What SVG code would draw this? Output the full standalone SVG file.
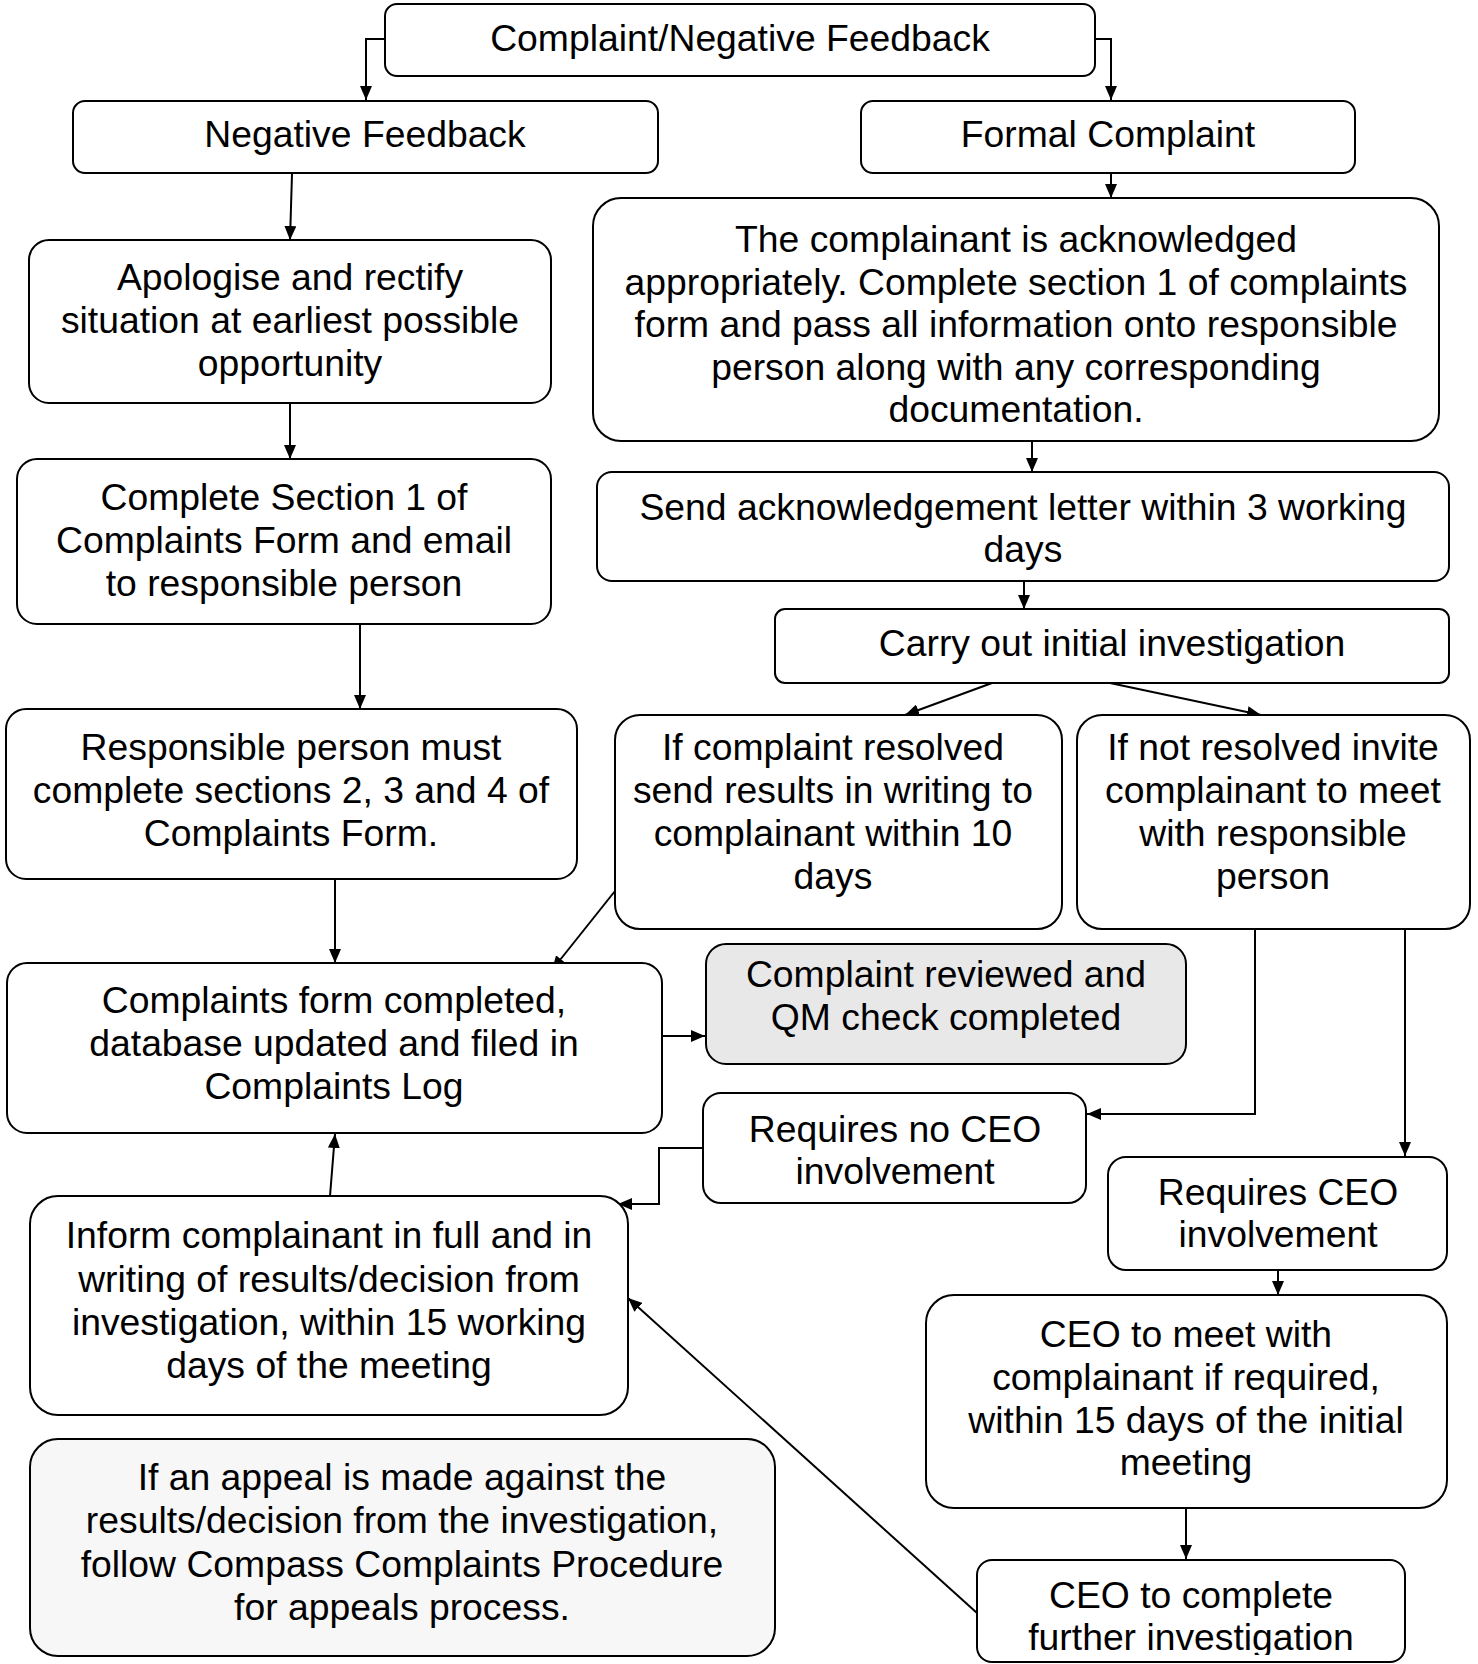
<svg xmlns="http://www.w3.org/2000/svg" width="1478" height="1664" viewBox="0 0 1478 1664">
<defs>
<style>
.box{fill:#fff;stroke:#000;stroke-width:2}
.grey{fill:#e8e8e8;stroke:#000;stroke-width:2}
.light{fill:#f7f7f7;stroke:#000;stroke-width:2}
text{font-family:"Liberation Sans",Arial,sans-serif;font-size:37.3px;fill:#000;text-anchor:middle}
.c{fill:none;stroke:#000;stroke-width:2;marker-end:url(#arr)}
</style>
<marker id="arr" viewBox="0 0 14 12" refX="14" refY="6" markerWidth="14" markerHeight="12" markerUnits="userSpaceOnUse" orient="auto">
<path d="M0,0 L14,6 L0,12 z" fill="#000"/>
</marker>
<clipPath id="clipAck"><rect x="590" y="190" width="860" height="233"/></clipPath>
<clipPath id="clipCeo"><rect x="970" y="1550" width="440" height="105"/></clipPath>
</defs>

<g id="connectors">
<path class="c" d="M385,39 H366 V100"/>
<path class="c" d="M1095,39 H1111 V100"/>
<path class="c" d="M292,174 L290,240"/>
<path class="c" d="M290,403 V459"/>
<path class="c" d="M360,624 V709"/>
<path class="c" d="M335,879 V963"/>
<path class="c" d="M1111,174 V198"/>
<path class="c" d="M1032,441 V472"/>
<path class="c" d="M1024,581 V609"/>
<path class="c" d="M992,683 L905,715"/>
<path class="c" d="M1110,683 L1261,715"/>
<path class="c" d="M615,891 L552,970"/>
<path class="c" d="M662,1036 H705"/>
<path class="c" d="M1255,929 V1114 H1087"/>
<path class="c" d="M1405,929 V1156"/>
<path class="c" d="M703,1148 H659 V1204 H618"/>
<path class="c" d="M330,1196 L335,1134"/>
<path class="c" d="M1278,1270 V1295"/>
<path class="c" d="M1186,1508 V1559"/>
<path class="c" d="M977,1613 L628,1298"/>
</g>

<g id="n-top">
<rect class="box" x="385" y="4" width="710" height="72" rx="12"/>
<text x="740" y="51">Complaint/Negative Feedback</text>
</g>
<g id="n-negfb">
<rect class="box" x="73" y="101" width="585" height="72" rx="12"/>
<text x="365" y="147">Negative Feedback</text>
</g>
<g id="n-formal">
<rect class="box" x="861" y="101" width="494" height="72" rx="12"/>
<text x="1108" y="147">Formal Complaint</text>
</g>
<g id="n-apologise">
<rect class="box" x="29" y="240" width="522" height="163" rx="20"/>
<text x="290" y="290">Apologise and rectify</text>
<text x="290" y="333">situation at earliest possible</text>
<text x="290" y="376">opportunity</text>
</g>
<g id="n-ack">
<rect class="box" x="593" y="198" width="846" height="243" rx="28"/>
<g clip-path="url(#clipAck)">
<text x="1016" y="252">The complainant is acknowledged</text>
<text x="1016" y="294.5">appropriately. Complete section 1 of complaints</text>
<text x="1016" y="337">form and pass all information onto responsible</text>
<text x="1016" y="379.5">person along with any corresponding</text>
<text x="1016" y="422">documentation.</text>
</g>
</g>
<g id="n-section1">
<rect class="box" x="17" y="459" width="534" height="165" rx="20"/>
<text x="284" y="510">Complete Section 1 of</text>
<text x="284" y="553">Complaints Form and email</text>
<text x="284" y="596">to responsible person</text>
</g>
<g id="n-send">
<rect class="box" x="597" y="472" width="852" height="109" rx="15"/>
<text x="1023" y="520">Send acknowledgement letter within 3 working</text>
<text x="1023" y="562">days</text>
</g>
<g id="n-carry">
<rect class="box" x="775" y="609" width="674" height="74" rx="10"/>
<text x="1112" y="656">Carry out initial investigation</text>
</g>
<g id="n-responsible">
<rect class="box" x="6" y="709" width="571" height="170" rx="20"/>
<text x="291" y="760">Responsible person must</text>
<text x="291" y="803">complete sections 2, 3 and 4 of</text>
<text x="291" y="846">Complaints Form.</text>
</g>
<g id="n-resolved">
<rect class="box" x="615" y="715" width="447" height="214" rx="25"/>
<text x="833" y="760">If complaint resolved</text>
<text x="833" y="803">send results in writing to</text>
<text x="833" y="846">complainant within 10</text>
<text x="833" y="889">days</text>
</g>
<g id="n-notresolved">
<rect class="box" x="1077" y="715" width="393" height="214" rx="25"/>
<text x="1273" y="760">If not resolved invite</text>
<text x="1273" y="803">complainant to meet</text>
<text x="1273" y="846">with responsible</text>
<text x="1273" y="889">person</text>
</g>
<g id="n-form">
<rect class="box" x="7" y="963" width="655" height="170" rx="20"/>
<text x="334" y="1013">Complaints form completed,</text>
<text x="334" y="1056">database updated and filed in</text>
<text x="334" y="1099">Complaints Log</text>
</g>
<g id="n-reviewed">
<rect class="grey" x="706" y="944" width="480" height="120" rx="20"/>
<text x="946" y="987">Complaint reviewed and</text>
<text x="946" y="1030">QM check completed</text>
</g>
<g id="n-noceo">
<rect class="box" x="703" y="1093" width="383" height="110" rx="18"/>
<text x="895" y="1142">Requires no CEO</text>
<text x="895" y="1184">involvement</text>
</g>
<g id="n-ceo">
<rect class="box" x="1108" y="1157" width="339" height="113" rx="18"/>
<text x="1278" y="1205">Requires CEO</text>
<text x="1278" y="1247">involvement</text>
</g>
<g id="n-inform">
<rect class="box" x="30" y="1196" width="598" height="219" rx="28"/>
<text x="329" y="1248">Inform complainant in full and in</text>
<text x="329" y="1292">writing of results/decision from</text>
<text x="329" y="1335">investigation, within 15 working</text>
<text x="329" y="1378">days of the meeting</text>
</g>
<g id="n-ceomeet">
<rect class="box" x="926" y="1295" width="521" height="213" rx="28"/>
<text x="1186" y="1347">CEO to meet with</text>
<text x="1186" y="1390">complainant if required,</text>
<text x="1186" y="1433">within 15 days of the initial</text>
<text x="1186" y="1475">meeting</text>
</g>
<g id="n-appeal">
<rect class="light" x="30" y="1439" width="745" height="217" rx="28"/>
<text x="402" y="1490">If an appeal is made against the</text>
<text x="402" y="1533">results/decision from the investigation,</text>
<text x="402" y="1577">follow Compass Complaints Procedure</text>
<text x="402" y="1620">for appeals process.</text>
</g>
<g id="n-ceocomplete">
<rect class="box" x="977" y="1560" width="428" height="102" rx="15"/>
<g clip-path="url(#clipCeo)">
<text x="1191" y="1608">CEO to complete</text>
<text x="1191" y="1650">further investigation</text>
</g>
</g>
</svg>
